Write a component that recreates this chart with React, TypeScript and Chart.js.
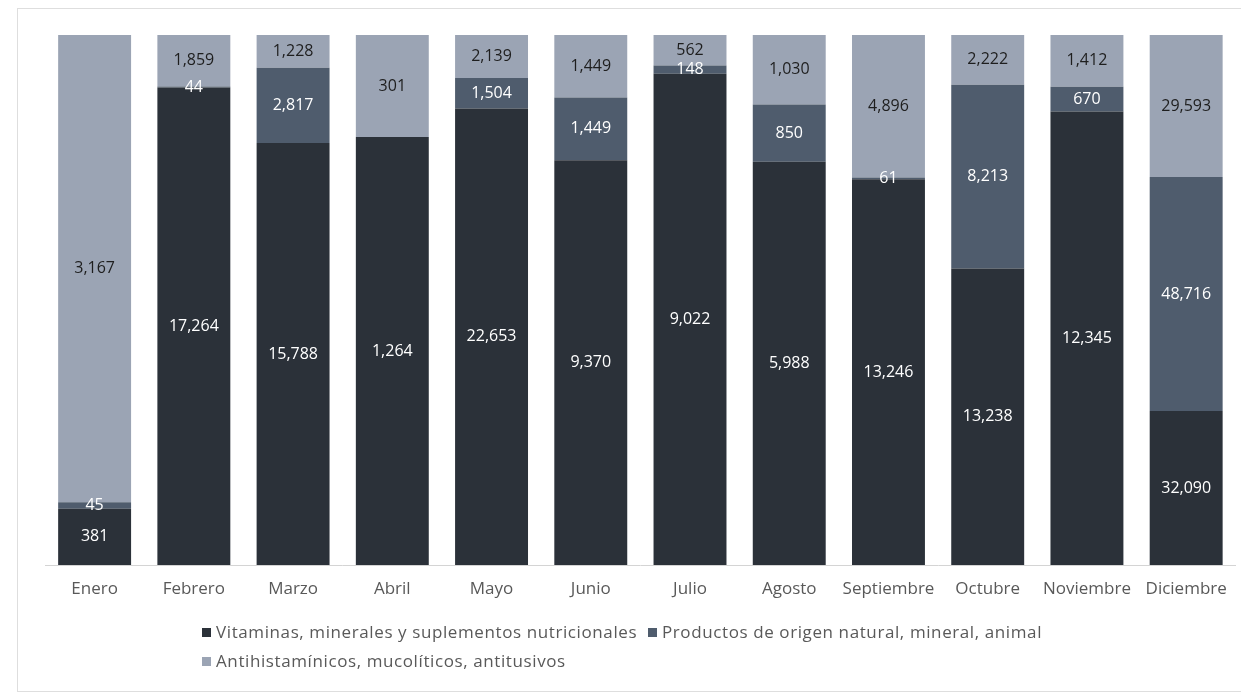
import React, { useEffect, useRef } from "react";
import { Chart, registerables } from "chart.js";

Chart.register(...registerables);

const months = [
  "Enero", "Febrero", "Marzo", "Abril", "Mayo", "Junio",
  "Julio", "Agosto", "Septiembre", "Octubre", "Noviembre", "Diciembre",
];
const vitaminas = [381, 17264, 15788, 1264, 22653, 9370, 9022, 5988, 13246, 13238, 12345, 32090];
const productos = [45, 44, 2817, 0, 1504, 1449, 148, 850, 61, 8213, 670, 48716];
const antihist = [3167, 1859, 1228, 301, 2139, 1449, 562, 1030, 4896, 2222, 1412, 29593];

const seriesNames = [
  "Vitaminas, minerales y suplementos nutricionales",
  "Productos de origen natural, mineral, animal",
  "Antihistamínicos, mucolíticos, antitusivos",
];
const seriesColors = ["#2b3139", "#4f5c6d", "#9ba4b4"];
const labelColors = ["#ffffff", "#ffffff", "#1e1e1e"];
const rawSeries = [vitaminas, productos, antihist];

const totals = months.map((_, i) => vitaminas[i] + productos[i] + antihist[i]);
const pct = (arr: number[]) => arr.map((v, i) => (v / totals[i]) * 100);

const FONT = "'Open Sans', 'DejaVu Sans', sans-serif";

const valueLabels = {
  id: "valueLabels",
  afterDatasetsDraw(chart: any) {
    const ctx = chart.ctx;
    ctx.save();
    ctx.font = `16px ${FONT}`;
    ctx.textAlign = "center";
    ctx.textBaseline = "middle";
    chart.data.datasets.forEach((ds: any, di: number) => {
      const meta = chart.getDatasetMeta(di);
      meta.data.forEach((el: any, i: number) => {
        const raw = rawSeries[di][i];
        if (!raw) return;
        const cy = (el.y + el.base) / 2;
        ctx.fillStyle = labelColors[di];
        ctx.fillText(raw.toLocaleString("en-US"), el.x, cy);
      });
    });
    ctx.restore();
  },
};

export default function App() {
  const ref = useRef<HTMLCanvasElement>(null);

  useEffect(() => {
    if (!ref.current) return;
    const chart = new Chart(ref.current, {
      type: "bar",
      data: {
        labels: months,
        datasets: rawSeries.map((arr, di) => ({
          label: seriesNames[di],
          data: pct(arr),
          backgroundColor: seriesColors[di],
          borderWidth: 0,
          categoryPercentage: 1,
          barPercentage: 0.735,
        })),
      },
      options: {
        responsive: false,
        animation: false,
        devicePixelRatio: 1,
        layout: { padding: { left: 45, right: 5, top: 35, bottom: 0 } },
        plugins: {
          legend: { display: false },
          tooltip: { enabled: false },
        },
        scales: {
          x: {
            stacked: true,
            grid: { display: false, drawTicks: false },
            border: { display: true, color: "#d4d4d4", width: 1 },
            ticks: {
              color: "#595959",
              font: { family: FONT, size: 17 },
              padding: 14,
              maxRotation: 0,
              autoSkip: false,
            },
            afterFit: (axis: any) => {
              axis.height = 131;
            },
          },
          y: {
            stacked: true,
            display: false,
            min: 0,
            max: 100,
          },
        },
      },
      plugins: [valueLabels],
    });
    return () => chart.destroy();
  }, []);

  const legendText: React.CSSProperties = {
    position: "absolute",
    fontFamily: FONT,
    fontSize: 17,
    letterSpacing: "0.6px",
    color: "#595959",
    whiteSpace: "nowrap",
    lineHeight: "20px",
  };
  const marker = (c: string): React.CSSProperties => ({
    display: "inline-block",
    width: 9,
    height: 9,
    background: c,
    marginRight: 5,
    verticalAlign: "middle",
    position: "relative",
    top: -1,
  });

  return (
    <div style={{ position: "absolute", left: 0, top: 0, width: 1241, height: 696, background: "#fff", overflow: "hidden" }}>
      <div
        style={{
          position: "absolute",
          left: 17,
          top: 8,
          width: 1240,
          height: 684,
          border: "1px solid #dedede",
          boxSizing: "border-box",
        }}
      />
      <canvas ref={ref} width={1241} height={696} style={{ position: "absolute", left: 0, top: 0 }} />
      <div style={{ ...legendText, left: 202, top: 622 }}>
        <span style={marker(seriesColors[0])} />
        {seriesNames[0]}
      </div>
      <div style={{ ...legendText, left: 648, top: 622 }}>
        <span style={marker(seriesColors[1])} />
        {seriesNames[1]}
      </div>
      <div style={{ ...legendText, left: 202, top: 651 }}>
        <span style={marker(seriesColors[2])} />
        {seriesNames[2]}
      </div>
    </div>
  );
}
